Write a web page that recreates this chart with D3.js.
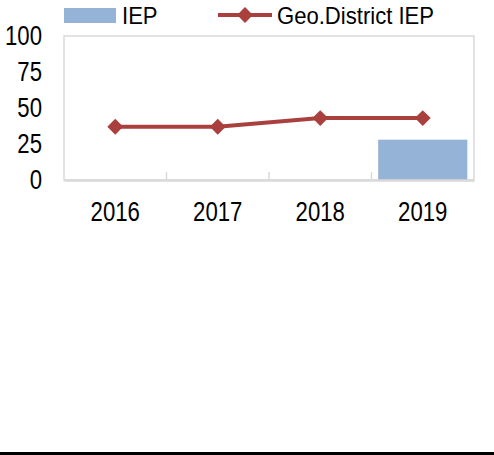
<!DOCTYPE html>
<html>
<head>
<meta charset="utf-8">
<script src="https://cdn.jsdelivr.net/npm/d3@7"></script>
<style>
  html, body { margin: 0; padding: 0; background: #fff; }
  svg { display: block; }
  text { font-family: "Liberation Sans Narrow", "Arial Narrow", "Liberation Sans", Arial, sans-serif; fill: #000; }
</style>
</head>
<body>
<svg id="chart"></svg>
<script>
// data
var years = ["2016", "2017", "2018", "2019"];
var iep = [null, null, null, 28];           // bars
var geoDistrictIep = [37, 37, 43, 43];      // line
var yTicks = [0, 25, 50, 75, 100];

var W = 494, H = 455;
var margin = {top: 36, right: 20, bottom: 275, left: 64},
    width = W - margin.left - margin.right,
    height = H - margin.top - margin.bottom;

var svg = d3.select("#chart").attr("width", W).attr("height", H);
var g = svg.append("g").attr("transform", "translate(" + margin.left + "," + margin.top + ")");

var x = d3.scaleBand().domain(years).range([0, width]).paddingInner(0.13).paddingOuter(0.065);
var xc = d3.scaleBand().domain(years).range([0, width]);
var y = d3.scaleLinear().domain([0, 100]).range([height, 0]);

var grey = "#d9d9d9", red = "#a9403d", blue = "#95b3d7";

// squeeze text to look like a narrow face (no narrow font installed)
function narrow(sel, k) {
  k = k || 0.82;
  sel.each(function() {
    var w = this.getComputedTextLength();
    d3.select(this).attr("textLength", w * k).attr("lengthAdjust", "spacingAndGlyphs");
  });
}

// plot frame
g.append("rect")
    .attr("x", 0).attr("y", 0)
    .attr("width", width).attr("height", height)
    .attr("fill", "none").attr("stroke", grey).attr("stroke-width", 1.5);

// bars
g.selectAll(".bar")
    .data(years.map(function(d, i) { return {k: d, v: iep[i]}; }).filter(function(d) { return d.v != null; }))
  .enter().append("rect")
    .attr("class", "bar")
    .attr("x", function(d) { return x(d.k); })
    .attr("width", x.bandwidth())
    .attr("y", function(d) { return y(d.v); })
    .attr("height", function(d) { return height - y(d.v); })
    .attr("fill", blue);

// x axis
var xAxis = g.append("g")
    .attr("transform", "translate(0," + height + ")")
    .call(d3.axisBottom(xc).tickSize(0).tickPadding(22));
xAxis.select(".domain").attr("stroke", grey).attr("stroke-width", 2.5);
xAxis.selectAll("text").style("font-size", "27px").call(narrow);

// category separators
g.selectAll(".sep")
    .data(years.slice(1))
  .enter().append("line")
    .attr("x1", function(d) { return xc(d); })
    .attr("x2", function(d) { return xc(d); })
    .attr("y1", height).attr("y2", height - 8)
    .attr("stroke", grey).attr("stroke-width", 1.5);

// y axis
var yAxis = g.append("g")
    .call(d3.axisLeft(y).tickValues(yTicks).tickSize(0).tickPadding(22));
yAxis.select(".domain").remove();
yAxis.selectAll("text").style("font-size", "27px").call(narrow);

// line
var line = d3.line()
    .x(function(d, i) { return xc(years[i]) + xc.bandwidth() / 2; })
    .y(function(d) { return y(d); });

g.append("path")
    .datum(geoDistrictIep)
    .attr("fill", "none")
    .attr("stroke", red)
    .attr("stroke-width", 4)
    .attr("d", line);

var diamond = d3.symbol().type(d3.symbolDiamond2).size(160);
g.selectAll(".pt")
    .data(geoDistrictIep)
  .enter().append("path")
    .attr("class", "pt")
    .attr("transform", function(d, i) { return "translate(" + (xc(years[i]) + xc.bandwidth() / 2) + "," + y(d) + ")"; })
    .attr("d", diamond)
    .attr("fill", red);

// legend
var lg = svg.append("g");
lg.append("rect").attr("x", 64).attr("y", 8).attr("width", 52).attr("height", 15).attr("fill", blue);
lg.append("text").attr("x", 122).attr("y", 15.5).attr("dy", "0.35em").style("font-size", "24px").text("IEP").call(narrow, 0.92);
lg.append("line").attr("x1", 218).attr("x2", 272).attr("y1", 15).attr("y2", 15)
    .attr("stroke", red).attr("stroke-width", 4);
lg.append("path").attr("transform", "translate(245,15)").attr("d", diamond).attr("fill", red);
lg.append("text").attr("x", 277).attr("y", 15.5).attr("dy", "0.35em").style("font-size", "24px").text("Geo.District IEP").call(narrow, 0.92);

// bottom rule
svg.append("rect").attr("x", 0).attr("y", 452).attr("width", W).attr("height", 3).attr("fill", "#000");
</script>
</body>
</html>
